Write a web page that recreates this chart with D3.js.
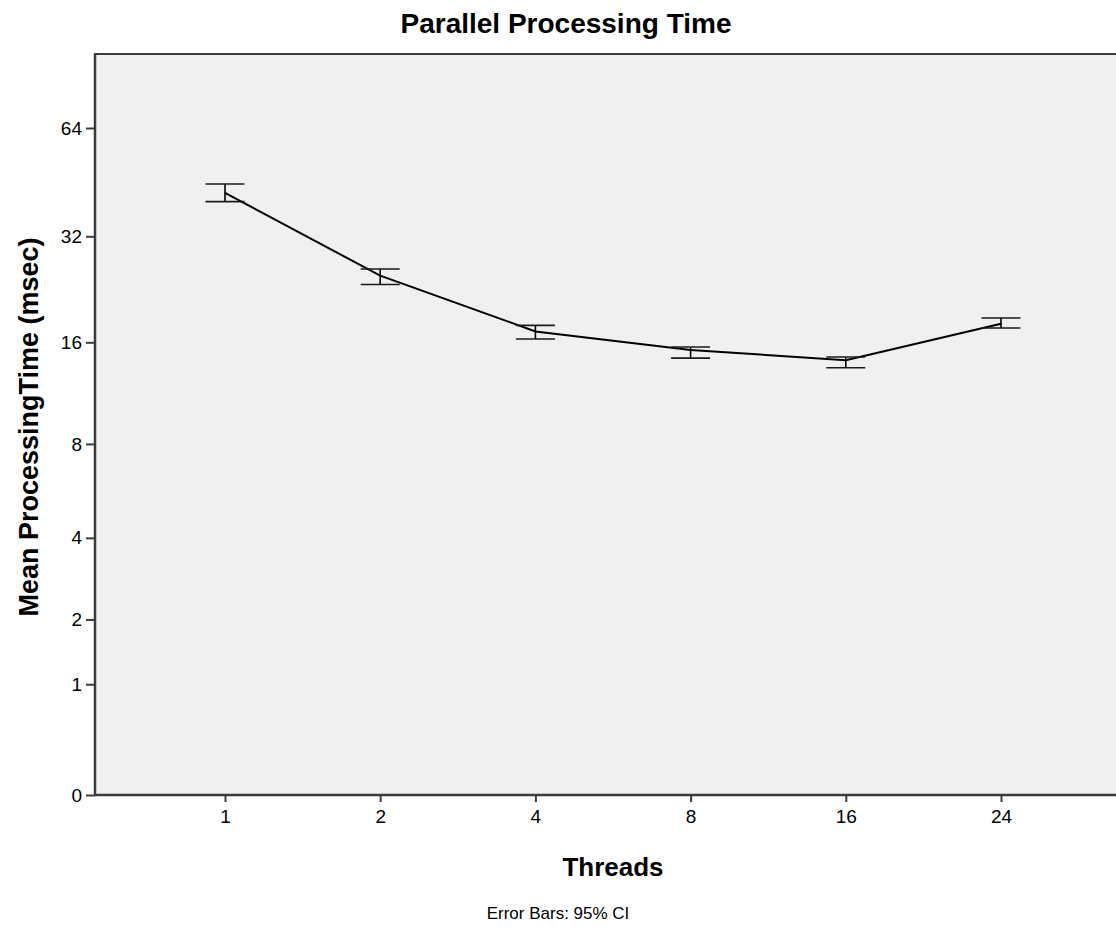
<!DOCTYPE html>
<html>
<head>
<meta charset="utf-8">
<script src="https://cdn.jsdelivr.net/npm/d3@7"></script>
<style>
  html, body { margin: 0; padding: 0; background: #ffffff; }
  svg { display: block; }
  text { font-family: "Liberation Sans", Arial, sans-serif; fill: #000; }
</style>
</head>
<body>
<svg id="chart" width="1116" height="935"></svg>
<script>
// ---- data ----
const categories = ["1", "2", "4", "8", "16", "24"];
const meanValues = [42.3, 24.8, 17.2, 15.2, 14.2, 18.1];
const ciLower    = [40.0, 23.4, 16.35, 14.4, 13.5, 17.6];
const ciUpper    = [44.8, 25.9, 17.9, 15.5, 14.5, 18.8];
const yTickValues = [0, 1, 2, 4, 8, 16, 32, 64];
const chartTitle = "Parallel Processing Time";
const xTitle = "Threads";
const yTitle = "Mean ProcessingTime (msec)";
const footnote = "Error Bars: 95% CI";

// ---- layout ----
const svg = d3.select("#chart");
const frame = { left: 95, top: 54, right: 1140, bottom: 795 };

const x = d3.scalePoint().domain(categories).range([225, 1001]);
const y = d3.scaleSymlog().constant(1).domain([0, 64]).range([795, 128]);

// plot background + frame
svg.append("rect")
  .attr("x", frame.left).attr("y", frame.top)
  .attr("width", frame.right - frame.left).attr("height", frame.bottom - frame.top)
  .attr("fill", "#f0f0f0")
  .attr("stroke", "#3c3c3c").attr("stroke-width", 2);

// y axis
const yAxis = d3.axisLeft(y).tickValues(yTickValues).tickFormat(d3.format("d")).tickSize(9).tickPadding(4);
const gy = svg.append("g").attr("transform", `translate(${frame.left},0)`).call(yAxis);
gy.select(".domain").remove();
gy.selectAll(".tick line").attr("stroke", "#3c3c3c").attr("stroke-width", 2);
gy.selectAll(".tick text").style("font-size", "19px").attr("fill", "#000");

// x axis
const xAxis = d3.axisBottom(x).tickSize(7).tickPadding(8);
const gx = svg.append("g").attr("transform", `translate(0,${frame.bottom})`).call(xAxis);
gx.select(".domain").remove();
gx.selectAll(".tick line").attr("stroke", "#3c3c3c").attr("stroke-width", 2);
gx.selectAll(".tick text").style("font-size", "19px").attr("fill", "#000");

// redraw left & bottom axis lines on top
svg.append("line").attr("x1", frame.left).attr("x2", frame.left)
  .attr("y1", frame.top).attr("y2", frame.bottom + 1)
  .attr("stroke", "#3c3c3c").attr("stroke-width", 2.5);
svg.append("line").attr("x1", frame.left - 1).attr("x2", 1116)
  .attr("y1", frame.bottom).attr("y2", frame.bottom)
  .attr("stroke", "#3c3c3c").attr("stroke-width", 2.5);

// data rows
const rows = categories.map((c, i) => ({ c, m: meanValues[i], lo: ciLower[i], hi: ciUpper[i] }));

// line
const line = d3.line().x(d => x(d.c)).y(d => y(d.m));
svg.append("path").datum(rows)
  .attr("d", line).attr("fill", "none")
  .attr("stroke", "#000").attr("stroke-width", 2);

// error bars
const capHalf = 19.5;
const eb = svg.append("g").selectAll("g").data(rows).join("g");
eb.append("line")
  .attr("x1", d => x(d.c)).attr("x2", d => x(d.c))
  .attr("y1", d => y(d.lo)).attr("y2", d => y(d.hi))
  .attr("stroke", "#000").attr("stroke-width", 1.6);
eb.append("line")
  .attr("x1", d => x(d.c) - capHalf).attr("x2", d => x(d.c) + capHalf)
  .attr("y1", d => y(d.hi)).attr("y2", d => y(d.hi))
  .attr("stroke", "#1a1a1a").attr("stroke-width", 1.6);
eb.append("line")
  .attr("x1", d => x(d.c) - capHalf).attr("x2", d => x(d.c) + capHalf)
  .attr("y1", d => y(d.lo)).attr("y2", d => y(d.lo))
  .attr("stroke", "#1a1a1a").attr("stroke-width", 1.6);

// titles
svg.append("text").attr("x", 566).attr("y", 33)
  .attr("text-anchor", "middle").style("font-size", "28px").style("font-weight", "bold")
  .text(chartTitle);

svg.append("text").attr("x", 613).attr("y", 876)
  .attr("text-anchor", "middle").style("font-size", "26px").style("font-weight", "bold")
  .text(xTitle);

svg.append("text")
  .attr("transform", `translate(38,427) rotate(-90)`)
  .attr("text-anchor", "middle").style("font-size", "27px").style("font-weight", "bold")
  .text(yTitle);

svg.append("text").attr("x", 558).attr("y", 919)
  .attr("text-anchor", "middle").style("font-size", "17px")
  .text(footnote);
</script>
</body>
</html>
